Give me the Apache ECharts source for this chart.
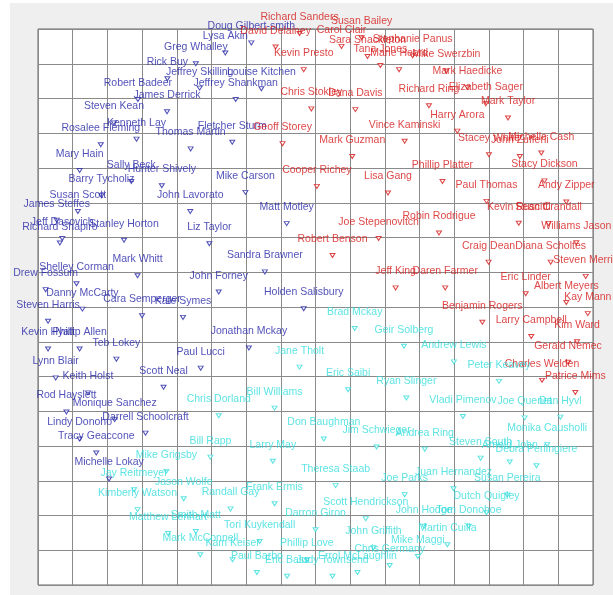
<!DOCTYPE html>
<html>
<head>
<meta charset="utf-8">
<script src="https://cdn.jsdelivr.net/npm/echarts@6/dist/echarts.min.js"></script>
<style>
  html, body { margin: 0; padding: 0; background: #ffffff; }
  #chart { width: 613px; height: 595px; }
</style>
</head>
<body>
<div id="chart"></div>
<script>
// Group 1 (blue)
const blueNames = ["Doug Gilbert-smith","Lysa Akin","Greg Whalley","Rick Buy","Jeffrey Skilling","Louise Kitchen","Robert Badeer","Jeffrey Shankman","James Derrick","Steven Kean","Kenneth Lay","Fletcher Sturm","Rosalee Fleming","Thomas Martin","Mary Hain","Sally Beck","Hunter Shively","Mike Carson","Barry Tycholiz","John Lavorato","Susan Scott","James Steffes","Matt Motley","Jeff Dasovich","Stanley Horton","Richard Shapiro","Liz Taylor","Sandra Brawner","Mark Whitt","Shelley Corman","Drew Fossum","John Forney","Holden Salisbury","Danny McCarty","Cara Semperger","Kate Symes","Steven Harris","Kevin Hyatt","Phillip Allen","Jonathan Mckay","Teb Lokey","Paul Lucci","Lynn Blair","Scott Neal","Keith Holst","Rod Hayslett","Monique Sanchez","Darrell Schoolcraft","Lindy Donoho","Tracy Geaccone","Michelle Lokay"];
const blueX = [6.15,5.40,4.55,3.73,4.66,6.44,2.88,5.70,3.72,2.19,2.84,5.60,1.81,4.40,1.20,2.69,3.57,5.98,1.83,4.39,1.15,0.54,7.17,0.70,2.48,0.63,4.94,6.54,2.87,1.11,0.22,5.21,7.66,1.28,3.00,4.18,0.29,0.29,1.20,6.08,2.26,4.69,0.51,3.62,1.44,0.82,2.21,3.10,1.20,1.68,2.05];
const blueY = [15.60,15.31,15.00,14.57,14.30,14.28,13.97,13.97,13.62,13.30,12.83,12.74,12.67,12.55,11.93,11.61,11.49,11.30,11.20,10.75,10.75,10.50,10.40,9.97,9.92,9.84,9.82,9.01,8.90,8.67,8.50,8.43,7.95,7.94,7.75,7.70,7.59,6.79,6.79,6.82,6.50,6.24,5.96,5.69,5.53,4.98,4.76,4.37,4.20,3.80,3.05];

// Group 2 (red)
const redNames = ["Richard Sanders","Susan Bailey","David Delainey","Carol Clair","Sara Shackleton","Stephanie Panus","Tana Jones","Kevin Presto","Marie Heard","Mike Swerzbin","Mark Haedicke","Elizabeth Sager","Richard Ring","Chris Stokley","Dana Davis","Mark Taylor","Harry Arora","Vince Kaminski","Geoff Storey","Michelle Cash","Stacey White","Mark Guzman","John Zufferli","Phillip Platter","Stacy Dickson","Cooper Richey","Lisa Gang","Paul Thomas","Andy Zipper","Kevin Ruscitti","Sean Crandall","Robin Rodrigue","Joe Stepenovitch","Williams Jason","Robert Benson","Craig Dean","Diana Scholtes","Steven Merris","Jeff King","Daren Farmer","Eric Linder","Albert Meyers","Kay Mann","Benjamin Rogers","Larry Campbell","Kim Ward","Gerald Nemec","Charles Welden","Patrice Mims"];
const redX = [7.54,9.33,6.85,8.75,9.50,10.80,9.87,7.66,10.41,11.77,12.38,12.91,11.27,7.88,9.15,13.55,12.09,10.57,7.05,14.51,13.00,9.06,13.89,11.66,14.60,8.04,10.09,12.93,15.23,13.86,14.72,11.56,9.82,15.52,8.49,12.99,14.78,15.79,10.31,11.74,14.06,15.23,15.85,12.81,14.22,15.54,15.28,14.53,15.49];
const redY = [15.87,15.75,15.48,15.50,15.21,15.23,14.95,14.83,14.83,14.79,14.32,13.85,13.79,13.70,13.68,13.44,13.06,12.77,12.70,12.43,12.38,12.33,12.33,11.61,11.63,11.47,11.28,11.04,11.02,10.41,10.40,10.13,9.97,9.85,9.48,9.29,9.29,8.88,8.55,8.55,8.38,8.13,7.81,7.56,7.15,7.00,6.41,5.89,5.54];

// Group 3 (cyan)
const cyanNames = ["Brad Mckay","Geir Solberg","Andrew Lewis","Jane Tholt","Peter Keavey","Eric Saibi","Ryan Slinger","Bill Williams","Chris Dorland","Vladi Pimenov","Dan Hyvl","Joe Quenet","Don Baughman","Monika Causholli","Jim Schwieger","Andrea Ring","Bill Rapp","Steven South","Arnold John","Larry May","Debra Perlingiere","Mike Grigsby","Theresa Staab","Juan Hernandez","Jay Reitmeyer","Joe Parks","Susan Pereira","Jason Wolfe","Frank Ermis","Randall Gay","Kimberly Watson","Dutch Quigley","Scott Hendrickson","John Hodge","Tom Donohoe","Smith Matt","Darron Giron","Matthew Lenhart","Tori Kuykendall","Martin Cuilla","John Griffith","Mark McConnell","Kam Keiser","Phillip Love","Mike Maggi","Chris Germany","Paul Barbo","Errol McLaughlin","Eric Bass","Judy Townsend"];
const cyanX = [9.13,10.55,11.99,7.54,13.29,8.94,10.62,6.82,5.21,12.25,15.06,14.03,8.24,14.68,9.76,11.15,4.97,12.76,13.60,6.77,14.37,3.70,8.58,11.98,2.77,10.57,13.53,4.20,6.82,5.55,2.87,12.93,9.45,11.13,12.42,4.55,8.00,3.75,6.39,11.80,9.67,4.68,5.61,7.75,10.95,10.14,6.31,9.21,7.18,8.49];
const cyanY = [7.38,6.87,6.42,6.27,5.86,5.62,5.38,5.09,4.87,4.85,4.83,4.81,4.20,4.04,3.97,3.91,3.68,3.65,3.54,3.56,3.43,3.27,2.86,2.77,2.74,2.60,2.59,2.48,2.34,2.19,2.17,2.08,1.91,1.69,1.69,1.54,1.59,1.48,1.25,1.16,1.07,0.87,0.73,0.72,0.82,0.56,0.36,0.36,0.25,0.25];

const groups = [
  { names: blueNames, xs: blueX, ys: blueY, color: '#2626a6' },
  { names: redNames, xs: redX, ys: redY, color: '#d41818' },
  { names: cyanNames, xs: cyanX, ys: cyanY, color: '#34dcdc' }
];

const chart = echarts.init(document.getElementById('chart'), null, { renderer: 'canvas' });

const axisCommon = {
  type: 'value', min: 0, max: 16, interval: 1,
  axisLabel: { show: false }, axisTick: { show: false }, axisLine: { show: false },
  splitLine: { show: true, lineStyle: { color: '#8a8a8a', width: 1 } }
};

chart.setOption({
  animation: false,
  backgroundColor: '#ffffff',
  graphic: [{
    type: 'rect', z: -10, silent: true,
    shape: { x: 10, y: 3, width: 603, height: 592 },
    style: { fill: '#efefef' }
  }],
  grid: {
    left: 38, top: 29, width: 555, height: 556,
    show: true, backgroundColor: '#ffffff', borderColor: '#666666', borderWidth: 1
  },
  xAxis: axisCommon,
  yAxis: axisCommon,
  series: groups.map(g => ({
    type: 'scatter',
    symbol: 'path://M0,0 L10,0 L5,8 Z',
    symbolSize: [5, 4],
    itemStyle: { color: '#ffffff', borderColor: g.color, borderWidth: 1 },
    label: {
      show: true, position: 'top', distance: 8.5,
      formatter: '{b}', color: g.color,
      fontFamily: 'Liberation Sans', fontSize: 10.5
    },
    labelLayout: { hideOverlap: false },
    emphasis: { disabled: true },
    data: g.names.map((n, i) => ({ name: n, value: [g.xs[i], g.ys[i]] }))
  }))
});
</script>
</body>
</html>
